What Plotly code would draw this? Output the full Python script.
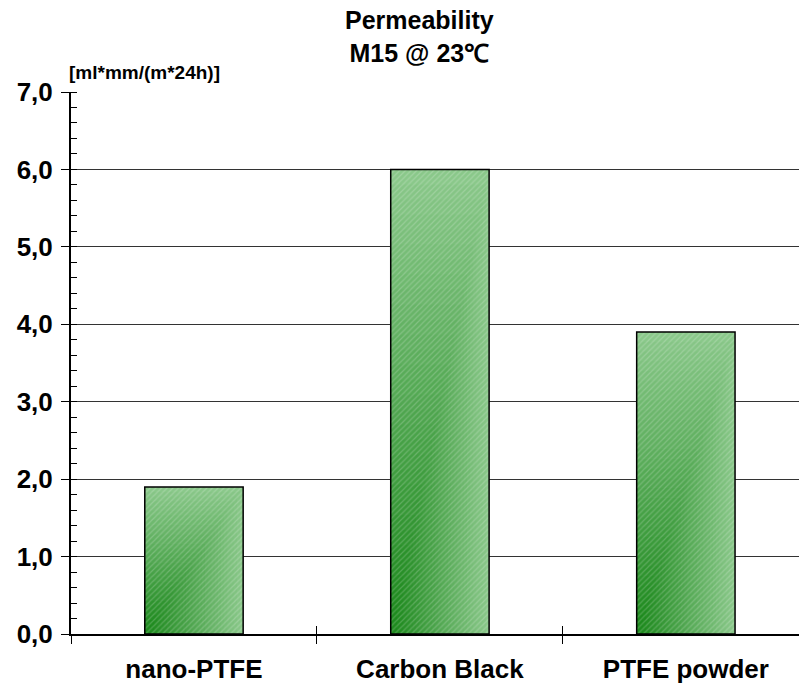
import plotly.graph_objects as go

categories = ["nano-PTFE", "Carbon Black", "PTFE powder"]
permeability = [1.9, 6.0, 3.9]
y_ticks = [0, 1, 2, 3, 4, 5, 6, 7]

FONT = "Liberation Sans, Arial, sans-serif"
BAR_W = 0.40
N = 30
dark = (30, 138, 30)
light = (138, 200, 138)

fig = go.Figure()
# gradient imitation: nested bars anchored at the lower-left corner, darker when smaller
for k in range(N):
    t = k / (N - 1)
    frac = 1 - 0.97 * k / N
    c = tuple(int(light[i] + (dark[i] - light[i]) * t) for i in range(3))
    fig.add_trace(go.Bar(
        x=categories, y=[v * frac for v in permeability],
        width=BAR_W * frac, offset=-BAR_W / 2,
        marker=dict(color="rgb(%d,%d,%d)" % c, line=dict(width=0)),
        hoverinfo="skip", showlegend=False))
# hatch + outline
fig.add_trace(go.Bar(
    x=categories, y=permeability, width=BAR_W, offset=-BAR_W / 2,
    marker=dict(color="rgba(0,0,0,0)", line=dict(color="black", width=1.5),
                pattern=dict(shape="/", fgcolor="white", fgopacity=0.2, size=4, solidity=0.3,
                             bgcolor="rgba(0,0,0,0)")),
    showlegend=False))
# invisible trace for the overlay axis carrying the inner half of category ticks
fig.add_trace(go.Scatter(x=[0], y=[0], xaxis="x2", mode="markers",
                         marker=dict(opacity=0), hoverinfo="skip", showlegend=False))

fig.update_layout(
    barmode="overlay",
    width=799, height=687,
    margin=dict(l=71, r=0, t=92, b=53),
    paper_bgcolor="white", plot_bgcolor="white",
    separators=",.",
    font=dict(family=FONT, color="black"),
    annotations=[
        dict(text="Permeability<br>M15 @ 23℃", xref="paper", yref="paper",
             x=0.479, y=1.042, xanchor="center", yanchor="bottom", showarrow=False,
             font=dict(size=25, family=FONT, weight="bold")),
        dict(text="[ml*mm/(m*24h)]", xref="paper", yref="paper",
             x=-0.005, y=1.012, xanchor="left", yanchor="bottom", showarrow=False,
             font=dict(size=19, family=FONT, weight="bold")),
    ],
    xaxis=dict(range=[-0.5, 2.46], showline=True, linecolor="black", linewidth=2,
               tickson="boundaries", ticks="outside", ticklen=8, tickcolor="black",
               tickfont=dict(size=26, family=FONT, weight="bold"), ticklabelstandoff=11,
               showgrid=False),
    xaxis2=dict(overlaying="x", anchor="y", side="bottom", range=[-0.5, 2.46],
                tickvals=[0.5, 1.5], ticks="inside", ticklen=8, tickcolor="black",
                showticklabels=False, showgrid=False, showline=False, zeroline=False),
    yaxis=dict(range=[0, 7], tickvals=y_ticks, tickformat=".1f",
               showline=True, linecolor="black", linewidth=2,
               ticks="outside", ticklen=8, tickcolor="black", tickwidth=1,
               showgrid=True, gridcolor="#333333", gridwidth=1,
               minor=dict(ticks="inside", dtick=0.2, ticklen=6, tickcolor="black", showgrid=False),
               tickfont=dict(size=26, family=FONT, weight="bold"), ticklabelstandoff=3,
               zeroline=False, fixedrange=True),
)

fig.write_html("out.html")
